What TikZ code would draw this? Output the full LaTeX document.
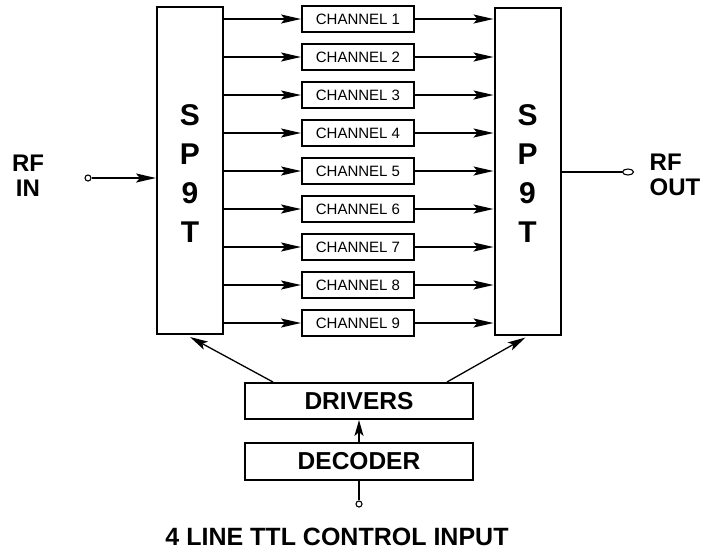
\documentclass[tikz,border=0pt]{standalone}
\usepackage{fontspec}
\setmainfont{Liberation Sans}
\usetikzlibrary{arrows.meta,shapes.geometric}
\tikzset{
  arr/.style={line width=2pt,-{Stealth[length=20pt,width=9pt,inset=4pt]}},
  arrthin/.style={line width=1.3pt,-{Stealth[length=18pt,width=9pt,inset=4pt]}},
  plain/.style={line width=1.8pt},
  chan/.style={draw,line width=2pt,inner sep=0pt,minimum width=112pt,minimum height=26pt,font=\fontsize{15}{17}\selectfont},
  sw/.style={draw,line width=2pt,inner sep=0pt,minimum width=66pt,minimum height=327pt},
  big/.style={font=\fontsize{30}{39}\selectfont\bfseries,align=center},
  lbl/.style={font=\fontsize{24}{25}\selectfont\bfseries},
  ctl/.style={draw,line width=2pt,inner sep=0pt,minimum width=228pt,minimum height=36pt,font=\fontsize{24.5}{26}\selectfont\bfseries},
  term/.style={circle,draw,line width=1.1pt,inner sep=0pt,minimum size=6pt,fill=white}
}
\begin{document}
\begin{tikzpicture}[x=1pt,y=-1pt]
\useasboundingbox (0,0) rectangle (703,550);
\node[sw] (L) at (190,170.5) {};
\node[sw] (R) at (527.5,171) {};
\node[big] (Ltxt) at (190,174) {S\\P\\9\\T};
\node[big] (Rtxt) at (527.5,174) {S\\P\\9\\T};
\foreach \i in {1,...,9}{
  \node[chan] (c\i) at (358,{19+38*(\i-1)}) {CHANNEL \i};
  \draw[arr] (L.east |- c\i.west) -- (c\i.west);
  \draw[arr] (c\i.east) -- (R.west |- c\i.east);
}
% RF IN
\node[lbl,align=center] (rfin) at (28,176) {RF\\IN};
\node[term] (tin) at (88,178) {};
\draw[arr] (tin.east) -- (L.west |- tin);
% RF OUT
\node[lbl,align=left] (rfout) at (675,175) {RF\\OUT};
\node[ellipse,draw,line width=1.1pt,inner sep=0pt,minimum width=11pt,minimum height=6pt] (tout) at (628,172) {};
\draw[plain] (R.east |- tout) -- (tout.west);
% drivers & decoder
\node[ctl] (drv) at (359,401) {DRIVERS};
\node[ctl,minimum height=37pt] (dec) at (359,461.5) {DECODER};
\draw[line width=1.8pt,-{Stealth[length=16pt,width=9pt,inset=4pt]}] (dec.north) -- (drv.south);
\draw[arrthin] ([xshift=-86pt]drv.north) -- ([yshift=-2pt]L.south);
\draw[arrthin] ([xshift=88pt]drv.north) -- ([xshift=-2pt,yshift=-2pt]R.south);
\node[term] (tctl) at (359,504) {};
\draw[plain] (dec.south) -- (tctl.north);
\node[lbl,font=\fontsize{25}{26}\selectfont\bfseries] (ctltxt) at (337,537) {4 LINE TTL CONTROL INPUT};
\end{tikzpicture}
\end{document}
